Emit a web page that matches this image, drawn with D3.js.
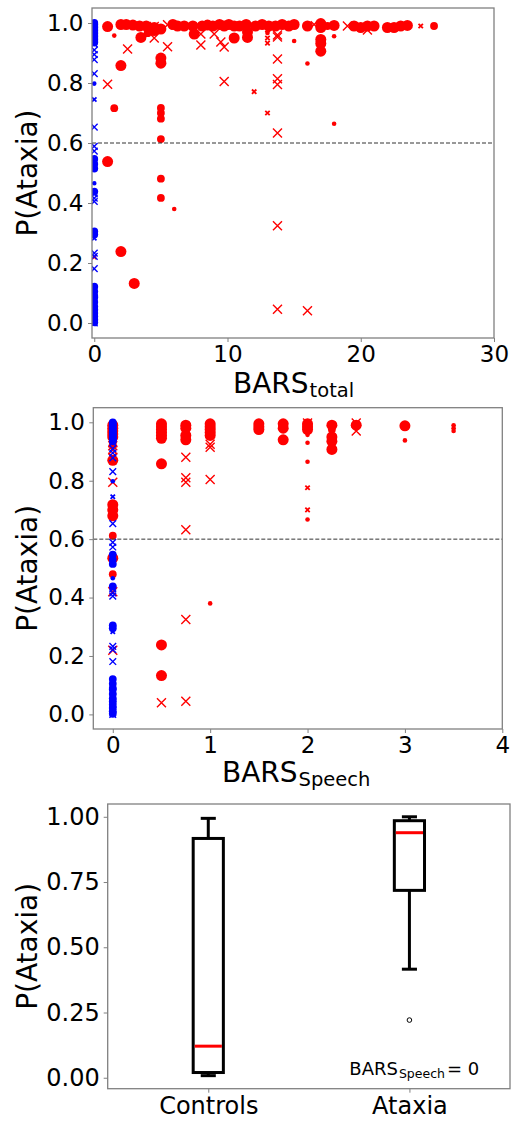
<!DOCTYPE html>
<html><head><meta charset="utf-8">
<script src="https://cdn.jsdelivr.net/npm/d3@7"></script>
<style>body{margin:0;background:#fff}svg{display:block;font-family:"DejaVu Sans",sans-serif}</style>
</head><body>
<script>
// ---------- DATA ----------
// size class: 1 small, 2 medium, 3 large; marker: "o" circle, "x" cross
const yTicksScatter = [0, 0.2, 0.4, 0.6, 0.8, 1.0];
const xTicksTotal = [0, 10, 20, 30];
const xTicksSpeech = [0, 1, 2, 3, 4];
const threshold = 0.6;

// Controls (blue), all at BARS = 0 in both panels: [p, marker, size]
const controls = [
  [1.0,"o",2],[0.995,"o",2],[0.99,"o",2],[0.985,"o",2],[0.98,"o",2],[0.975,"o",2],[0.97,"o",2],
  [0.965,"o",2],[0.96,"o",2],[0.955,"o",2],[0.95,"o",2],[0.945,"o",2],[0.94,"o",2],[0.935,"o",2],
  [0.98,"x",2],[0.96,"x",2],[0.95,"x",2],[0.93,"x",2],[0.91,"x",2],[0.895,"x",2],[0.878,"x",2],
  [0.831,"x",2],[0.798,"o",1],[0.745,"x",1],[0.653,"x",2],[0.589,"x",2],[0.573,"x",2],
  [0.547,"o",2],[0.53,"o",2],[0.515,"o",2],[0.466,"o",1],[0.438,"o",2],[0.43,"x",2],[0.416,"x",2],
  [0.405,"x",2],[0.305,"o",2],[0.295,"o",2],[0.283,"x",1],[0.233,"x",2],[0.222,"x",2],[0.181,"x",2],
  [0.121,"o",2],[0.105,"o",2],[0.09,"o",2],[0.085,"o",2],[0.07,"o",2],[0.055,"o",2],[0.044,"o",2],
  [0.033,"o",2],[0.022,"o",2],[0.011,"o",2],[0.002,"o",2],[0.06,"x",2],[0.035,"x",2],[0.015,"x",2],[0.0,"x",2]
];

// Ataxia (red) vs BARS total: [bars, p, marker, size]
const ataxiaTotal = [
  [1.0,0.988,"o",3],[1.5,0.958,"o",1],[2.0,0.995,"o",3],[2.4,0.995,"o",3],[2.9,0.993,"o",3],
  [3.4,0.99,"o",3],[3.9,0.99,"o",3],[4.5,0.985,"o",3],[3.5,0.952,"o",3],[4.0,0.966,"o",2],[4.5,0.975,"o",3],
  [5.0,0.98,"o",3],[5.9,0.995,"o",3],[6.25,0.99,"o",3],[6.75,0.99,"o",3],[7.4,0.99,"o",3],[7.5,0.963,"o",3],
  [8.1,0.99,"o",3],[8.5,0.993,"o",3],[8.9,0.99,"o",3],[9.4,0.995,"o",3],[9.75,0.99,"o",3],[10.1,0.995,"o",3],
  [10.5,0.95,"o",3],[10.5,0.99,"o",3],[10.9,0.99,"o",3],[11.4,0.995,"o",3],[11.5,0.952,"o",3],[11.5,0.97,"o",3],
  [12.1,0.99,"o",3],[12.6,0.995,"o",3],[13.1,0.99,"o",3],[13.6,0.99,"o",3],[14.1,0.995,"o",3],[14.6,0.99,"o",3],
  [15.0,0.995,"o",3],[15.0,0.94,"o",1],[16.0,0.99,"o",3],[17.0,0.998,"o",3],[17.0,0.985,"o",3],[17.0,0.945,"o",3],
  [17.0,0.932,"o",3],[17.0,0.906,"o",3],[17.5,0.99,"o",2],[18.0,0.992,"o",3],[18.0,0.956,"o",1],[19.5,0.99,"o",3],
  [20.0,0.985,"o",3],[20.5,0.99,"o",3],[21.0,0.99,"o",3],[22.0,0.985,"o",3],[22.5,0.985,"o",3],[23.0,0.99,"o",3],
  [23.5,0.992,"o",3],[25.5,0.99,"o",2],
  [2.0,0.858,"o",3],[1.5,0.716,"o",2],[5.0,0.883,"o",3],[5.0,0.866,"o",3],[5.0,0.717,"o",2],[5.0,0.70,"o",2],
  [5.0,0.681,"o",2],[5.0,0.613,"o",2],[5.0,0.481,"o",2],[5.0,0.417,"o",2],[6.0,0.38,"o",1],[2.0,0.238,"o",3],
  [3.0,0.132,"o",3],[1.0,0.538,"o",3],[13.0,0.967,"o",1],[16.0,0.865,"o",1],[18.0,0.664,"o",1],
  [1.0,0.796,"x",3],[2.5,0.913,"x",3],[4.5,0.988,"x",3],[4.5,0.95,"x",3],[5.5,0.994,"x",3],[5.5,0.921,"x",3],
  [8.0,0.963,"x",3],[8.0,0.927,"x",3],[9.0,0.963,"x",3],[9.5,0.937,"x",3],[9.75,0.92,"x",3],[9.75,0.805,"x",3],
  [12.0,0.771,"x",1],[13.0,0.977,"x",1],[13.0,0.95,"x",1],[13.0,0.933,"x",1],[13.0,0.70,"x",1],
  [13.75,0.96,"x",3],[13.75,0.953,"x",3],[13.75,0.88,"x",3],[13.75,0.814,"x",3],[13.75,0.795,"x",3],
  [13.75,0.633,"x",3],[13.75,0.324,"x",3],[13.75,0.046,"x",3],[16.0,0.041,"x",3],[19.0,0.99,"x",3],
  [16.5,0.995,"x",2],[20.5,0.977,"x",3],[24.5,0.99,"x",1],[0,0.22,"x",1]
];

// Ataxia (red) vs BARS speech: [bars, p, marker, size]
const ataxiaSpeech = [
  [0,0.99,"o",3],[0,0.98,"o",3],[0,0.97,"o",3],[0,0.96,"o",3],[0,0.95,"o",3],[0,0.94,"o",2],[0,0.925,"o",2],
  [0,0.87,"o",3],[0,0.718,"o",3],[0,0.70,"o",3],[0,0.68,"o",3],[0,0.612,"o",2],[0,0.535,"o",3],[0,0.48,"o",2],
  [0,0.93,"x",3],[0,0.92,"x",3],[0,0.905,"x",3],[0,0.88,"x",3],[0,0.795,"x",3],[0,0.42,"x",3],[0,0.22,"x",3],
  [0.5,0.995,"o",3],[0.5,0.985,"o",3],[0.5,0.975,"o",3],[0.5,0.965,"o",3],[0.5,0.955,"o",3],[0.5,0.945,"o",3],
  [0.5,0.858,"o",3],[0.5,0.238,"o",3],[0.5,0.133,"o",3],[0.5,0.04,"x",3],
  [0.75,0.99,"o",3],[0.75,0.98,"o",3],[0.75,0.955,"o",3],[0.75,0.94,"o",3],
  [0.75,0.88,"x",3],[0.75,0.81,"x",3],[0.75,0.795,"x",3],[0.75,0.632,"x",3],[0.75,0.325,"x",3],[0.75,0.045,"x",3],
  [1.0,0.995,"o",3],[1.0,0.985,"o",3],[1.0,0.975,"o",3],[1.0,0.965,"o",3],[1.0,0.955,"o",3],
  [1.0,0.925,"x",3],[1.0,0.915,"x",3],[1.0,0.804,"x",3],[1.0,0.38,"o",1],
  [1.5,0.995,"o",3],[1.5,0.985,"o",3],[1.5,0.975,"o",3],
  [1.75,0.995,"o",3],[1.75,0.98,"o",3],[1.75,0.94,"o",3],
  [2.0,0.995,"o",3],[2.0,0.985,"o",3],[2.0,0.975,"o",3],[2.0,0.998,"x",3],[2.0,0.957,"o",1],[2.0,0.93,"o",1],
  [2.0,0.865,"o",1],[2.0,0.776,"x",1],[2.0,0.70,"x",1],[2.0,0.667,"o",1],
  [2.25,0.99,"o",3],[2.25,0.975,"o",2],[2.25,0.95,"o",3],[2.25,0.935,"o",3],[2.25,0.907,"o",3],
  [2.5,0.99,"o",3],[2.5,0.998,"x",3],[2.5,0.97,"x",3],
  [3.0,0.988,"o",3],[3.0,0.938,"o",1],
  [3.5,0.99,"o",1],[3.5,0.98,"o",1],[3.5,0.97,"o",1]
];

// Box plot (BARS speech = 0)
const groups = ["Controls", "Ataxia"];
const whiskerLow = [0.008, 0.416];
const q1 = [0.020, 0.718];
const median = [0.121, 0.939];
const q3 = [0.917, 0.985];
const whiskerHigh = [0.994, 1.0];
const outliers = [[], [0.221]];
const yTicksBox = [0, 0.25, 0.5, 0.75, 1.0];

// ---------- DRAW ----------
const W = 511, H = 1121;
const svg = d3.select("body").append("svg").attr("width", W).attr("height", H);
const frameColor = "#808080";
const circR = d3.scaleLinear().domain([1, 3]).range([2.3, 5.5]);
const crossR = d3.scaleLinear().domain([1, 3]).range([2.2, 4.5]);

function styleAxis(g, fs) {
  g.select(".domain").remove();
  g.selectAll(".tick line").attr("stroke", frameColor).attr("stroke-width", 1);
  g.selectAll(".tick text").attr("fill", "#000").attr("font-size", fs)
    .attr("font-family", "DejaVu Sans");
}

function yLabel(cy) {
  svg.append("text").attr("transform", `translate(37,${cy}) rotate(-90)`)
    .attr("text-anchor", "middle").attr("font-size", 28).text("P(Ataxia)");
}

function drawMarker(g, x, y, pts, color) {
  pts.forEach(d => {
    const [xv, p, m, s] = d;
    const cx = x(xv), cy = y(p);
    if (m === "o") {
      g.append("circle").attr("cx", cx).attr("cy", cy).attr("r", circR(s)).attr("fill", color);
    } else {
      const a = crossR(s);
      g.append("path").attr("d", `M${cx-a},${cy-a}L${cx+a},${cy+a}M${cx-a},${cy+a}L${cx+a},${cy-a}`)
        .attr("stroke", color).attr("stroke-width", s === 1 ? 1.8 : 1.4).attr("fill", "none");
    }
  });
}

function scatterPanel(box, xDomain, xTicks, redData, id, labelSub, labelX, labelBase) {
  const [L, T, R, B] = box;
  const x = d3.scaleLinear().domain(xDomain).range([L, R]);
  const y = d3.scaleLinear().domain([-0.05, 1.05]).range([B, T]);
  svg.append("clipPath").attr("id", id).append("rect").attr("x", L).attr("y", T).attr("width", R - L).attr("height", B - T);
  const pg = svg.append("g").attr("clip-path", `url(#${id})`);
  svg.append("line").attr("x1", L).attr("x2", R).attr("y1", y(threshold)).attr("y2", y(threshold))
    .attr("stroke", "#333").attr("stroke-width", 1).attr("stroke-dasharray", "4,2");
  drawMarker(pg, x, y, redData, "#ff0000");
  drawMarker(pg, x, y, controls.map(d => [0, d[0], d[1], d[2]]), "#0000ff");
  svg.append("rect").attr("x", L).attr("y", T).attr("width", R - L).attr("height", B - T)
    .attr("fill", "none").attr("stroke", frameColor).attr("stroke-width", 1.3);
  const gx = svg.append("g").attr("transform", `translate(0,${B})`)
    .call(d3.axisBottom(x).tickValues(xTicks).tickFormat(d3.format("d")).tickSize(4).tickPadding(3.5));
  styleAxis(gx, 23);
  const gy = svg.append("g").attr("transform", `translate(${L},0)`)
    .call(d3.axisLeft(y).tickValues(yTicksScatter).tickFormat(d3.format(".1f")).tickSize(4).tickPadding(4.5));
  styleAxis(gy, 23);
  yLabel((T + B) / 2);
  const t = svg.append("text").attr("x", labelX).attr("y", labelBase).attr("font-size", 28);
  t.append("tspan").text("BARS");
  t.append("tspan").attr("font-size", 19.5).attr("dx", 1).attr("dy", 4).text(labelSub);
}

scatterPanel([92, 8, 494, 338], [-0.17, 30], xTicksTotal, ataxiaTotal, "c1", "total", 233, 393);
scatterPanel([93.3, 407.7, 502.3, 729], [-0.2, 4], xTicksSpeech, ataxiaSpeech, "c2", "Speech", 222, 781.5);

// Box panel
(function () {
  const L = 107.7, T = 804, R = 510, B = 1088.7;
  const x = d3.scaleLinear().domain([0.5, 2.5]).range([L, R]);
  const y = d3.scaleLinear().domain([-0.042, 1.049]).range([B, T]);
  const bw = x(1.075) - x(0.925), cw = x(1.0375) - x(0.9625);
  const g = svg.append("g");
  groups.forEach((name, i) => {
    const cx = x(i + 1);
    const st = sel => sel.attr("stroke", "#000").attr("stroke-width", 3).attr("fill", "none");
    g.append("line").attr("x1", cx).attr("x2", cx).attr("y1", y(q3[i])).attr("y2", y(whiskerHigh[i])).call(st);
    g.append("line").attr("x1", cx).attr("x2", cx).attr("y1", y(q1[i])).attr("y2", y(whiskerLow[i])).call(st);
    g.append("line").attr("x1", cx - cw / 2).attr("x2", cx + cw / 2).attr("y1", y(whiskerHigh[i])).attr("y2", y(whiskerHigh[i])).call(st);
    g.append("line").attr("x1", cx - cw / 2).attr("x2", cx + cw / 2).attr("y1", y(whiskerLow[i])).attr("y2", y(whiskerLow[i])).call(st);
    g.append("rect").attr("x", cx - bw / 2).attr("y", y(q3[i])).attr("width", bw).attr("height", y(q1[i]) - y(q3[i])).call(st);
    g.append("line").attr("x1", cx - bw / 2 + 1.5).attr("x2", cx + bw / 2 - 1.5).attr("y1", y(median[i])).attr("y2", y(median[i]))
      .attr("stroke", "#ff0000").attr("stroke-width", 3);
    outliers[i].forEach(o => g.append("circle").attr("cx", cx).attr("cy", y(o)).attr("r", 2.3)
      .attr("fill", "none").attr("stroke", "#000").attr("stroke-width", 1));
  });
  svg.append("rect").attr("x", L).attr("y", T).attr("width", R - L).attr("height", B - T)
    .attr("fill", "none").attr("stroke", frameColor).attr("stroke-width", 1.3);
  const gx = svg.append("g").attr("transform", `translate(0,${B})`)
    .call(d3.axisBottom(x).tickValues([1, 2]).tickFormat(d => groups[d - 1]).tickSize(4).tickPadding(4));
  styleAxis(gx, 24);
  const gy = svg.append("g").attr("transform", `translate(${L},0)`)
    .call(d3.axisLeft(y).tickValues(yTicksBox).tickFormat(d3.format(".2f")).tickSize(4).tickPadding(4));
  styleAxis(gy, 24);
  yLabel((T + B) / 2);
  const t = svg.append("text").attr("x", 349.3).attr("y", 1075).attr("font-size", 18);
  t.append("tspan").text("BARS");
  t.append("tspan").attr("font-size", 12.5).attr("dx", 1).attr("dy", 3).text("Speech");
  t.append("tspan").attr("dy", -3).attr("dx", 2).text("= 0");
})();
</script>
</body></html>
